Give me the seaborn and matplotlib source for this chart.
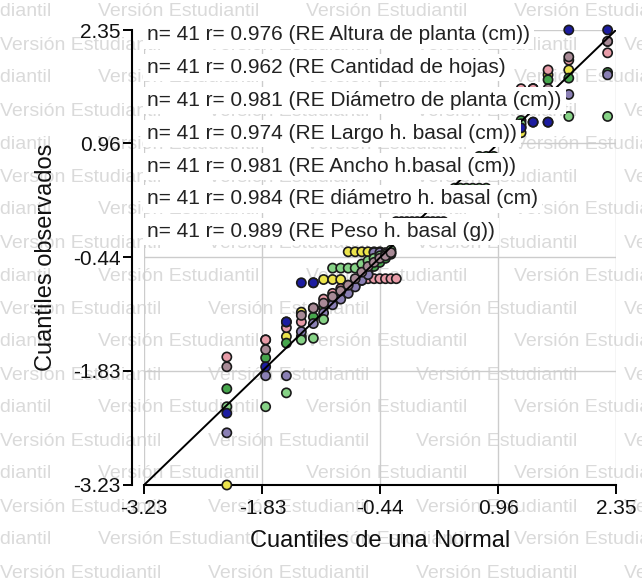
import matplotlib
matplotlib.use("Agg")
import matplotlib.pyplot as plt
import numpy as np
import pandas as pd
import seaborn as sns
from statistics import NormalDist

# ---------------- data ----------------
series_names = [
    "Altura de planta (cm)",
    "Cantidad de hojas",
    "Diámetro de planta (cm)",
    "Largo h. basal (cm)",
    "Ancho h.basal (cm)",
    "diámetro h. basal (cm",
    "Peso h. basal (g)",
]
r_values = ["0.976", "0.962", "0.981", "0.974", "0.981", "0.984", "0.989"]

altura = ([-2.35, -1.78, -1.23, -0.75, -0.75] + [-0.12] * 21 + [0.27] * 7
          + [1.05] * 3 + [1.15, 1.22, 1.22, 2.35, 2.35])
hojas = ([-3.23, -1.45, -1.41, -1.11, -0.75, -0.71, -0.71, -0.71] + [-0.37] * 6
         + [-0.12] * 12 + [0.27] * 7 + [1.05] * 3 + [1.09, 1.63, 1.80, 1.86, 2.21])
diam_planta = ([-2.05, -1.67, -1.49, -1.41, -1.17, -1.05, -0.98, -0.90, -0.85, -0.78,
                -0.70, -0.62, -0.55, -0.50, -0.45, -0.40] + [-0.12] * 10 + [0.27] * 5
               + [0.80] * 3 + [1.05] * 2 + [1.24, 1.63, 1.74, 1.76, 1.83])
largo_hb = ([-1.66, -1.45, -1.30, -1.23, -1.06, -0.95, -0.88, -0.82, -0.78, -0.75,
             -0.72, -0.70, -0.70, -0.70, -0.70, -0.70, -0.70] + [-0.12] * 9
            + [0.27] * 7 + [1.05] * 3 + [1.63, 1.63, 1.86, 1.98, 2.07])
ancho_hb = ([-2.59, -1.89, -1.89, -1.35, -1.25, -1.12, -1.02, -0.95, -0.88, -0.80,
             -0.72, -0.65, -0.38, -0.38, -0.38, -0.38] + [0.0] * 10 + [0.27] * 7
            + [1.05] * 3 + [1.16, 1.50, 1.45, 1.56, 1.80])
diam_hb = ([-2.27, -2.27, -2.10, -1.45, -1.43, -1.20, -0.57, -0.57, -0.57, -0.57,
            -0.52, -0.48, -0.45, -0.42, -0.40, -0.35] + [-0.12] * 11 + [0.41] * 6
           + [1.05] * 3 + [1.20, 1.22, 1.22, 1.29, 1.29])
peso_hb = ([-1.78, -1.57, -1.23, -1.15, -1.06, -1.00, -0.92, -0.85, -0.78, -0.70,
            -0.62, -0.55, -0.50, -0.45, -0.42, -0.38] + [-0.12] * 10 + [0.27] * 7
           + [1.05] * 3 + [1.40, 1.50, 1.63, 2.02, 2.21])

all_series = [altura, hojas, diam_planta, largo_hb, ancho_hb, diam_hb, peso_hb]
colors = ["#1c1ca0", "#ece44c", "#46a64c", "#e89ca8", "#8a7fb4", "#86d286", "#a88a96"]
tick_vals = [-3.23, -1.83, -0.44, 0.96, 2.35]

# ---------------- long table with normal quantiles ----------------
rows = []
for name, vals in zip(series_names, all_series):
    vals = sorted(vals)
    k = len(vals)
    for i, v in enumerate(vals):
        rows.append({"serie": name,
                     "teorico": NormalDist().inv_cdf((i + 0.5) / k),
                     "observado": v})
df = pd.DataFrame(rows)
# draw the first series last (on top)
order = series_names[1:] + series_names[:1]
df["ord"] = df["serie"].map({s: i for i, s in enumerate(order)})
df = df.sort_values("ord", kind="stable").reset_index(drop=True)

# ---------------- style ----------------
sns.set_theme(style="white")
plt.rcParams["font.family"] = ["Liberation Sans", "DejaVu Sans"]

W, H = 642, 580
fig = plt.figure(figsize=(W / 100, H / 100), dpi=100)
ax = fig.add_axes([144 / W, 1 - 485 / H, 472 / W, 455 / H])
ax.patch.set_alpha(0)

# watermark
wm = "Versión Estudiantil"
for j, ypx in enumerate(range(12, 590, 33)):
    x = -110 if j % 2 == 0 else 0
    while x < W:
        fig.text(x / W, 1 - ypx / H, wm, color="#dadada", fontsize=14,
                 va="center", ha="left", zorder=-1)
        x += 208

lo = df["observado"].min()
hi = df["observado"].max()

sns.scatterplot(data=df, x="teorico", y="observado", hue="serie",
                palette=dict(zip(series_names, colors)), legend=False,
                s=44, edgecolor="#1a1a1a", linewidth=1.2, alpha=1,
                clip_on=False, zorder=3, ax=ax)
ax.plot([lo, hi], [lo, hi], color="black", lw=1.4, zorder=4)

ax.set_xlim(lo, hi)
ax.set_ylim(lo, hi)
ax.set_xticks(tick_vals)
ax.set_yticks(tick_vals)
ax.set_xticklabels([f"{t:.2f}" for t in tick_vals])
ax.set_yticklabels([f"{t:.2f}" for t in tick_vals])
ax.grid(True, color="#cccccc", lw=1.0, zorder=0)
ax.set_axisbelow(True)

for s in ["top", "right"]:
    ax.spines[s].set_visible(False)
ax.spines["left"].set_position(("outward", 8.6))
for s in ["left", "bottom"]:
    ax.spines[s].set_color("black")
    ax.spines[s].set_linewidth(1.5)
ax.tick_params(axis="both", direction="out", length=6.5, width=1.4,
               color="black", labelsize=15, labelcolor="#111111")
ax.tick_params(axis="x", pad=3.5)
ax.tick_params(axis="y", pad=1.5)
ax.tick_params(left=True, bottom=True)

ax.set_xlabel("Cuantiles de una Normal", fontsize=17, labelpad=9, color="#111111")
ax.set_ylabel("Cuantiles observados", fontsize=17, labelpad=12, color="#111111")

# legend-like text rows
n = len(altura)
for i, (name, r) in enumerate(zip(series_names, r_values)):
    ypx = 35 + 32.8 * i
    ax.text(3 / 472, (485 - ypx) / 455, f"n= {n} r= {r} (RE {name})",
            transform=ax.transAxes, ha="left", va="center", fontsize=15,
            color="#222222", zorder=6, clip_on=False,
            bbox=dict(facecolor="white", edgecolor="none", pad=3.0))

fig.savefig("out.png", dpi=100)
